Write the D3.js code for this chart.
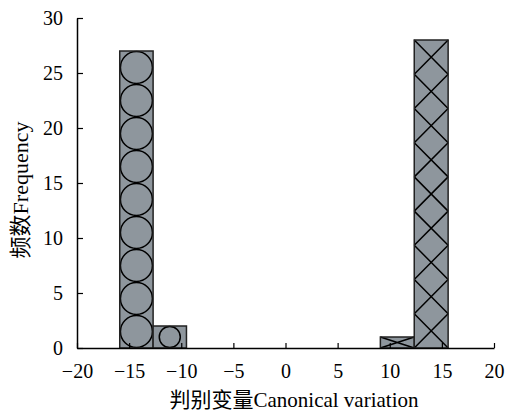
<!DOCTYPE html>
<html>
<head>
<meta charset="utf-8">
<script src="https://cdn.jsdelivr.net/npm/d3@7"></script>
<style>
  body { margin: 0; background: #fff; }
  svg text { font-family: "Liberation Serif", "Times New Roman", "Noto Sans CJK SC", serif; fill: #000; }
</style>
</head>
<body>
<div id="chart"></div>
<script>
// bin edges (two groups, each with its own bins)
var groupAEdges = [-15.9, -12.7, -9.5];
var groupACounts = [27, 2];
var groupBEdges = [9.1, 12.35, 15.6];
var groupBCounts = [1, 28];

var xTicks = [-20, -15, -10, -5, 0, 5, 10, 15, 20];
var yTicks = [0, 5, 10, 15, 20, 25, 30];
var xTitle = "判别变量Canonical variation";
var yTitle = "频数Frequency";

var width = 506, height = 412;
var margin = { left: 77, right: 12, top: 18, bottom: 64 };

var svg = d3.select("#chart").append("svg")
    .attr("width", width)
    .attr("height", height);

var x = d3.scaleLinear().domain([-20, 20]).range([margin.left, width - margin.right]);
var y = d3.scaleLinear().domain([0, 30]).range([height - margin.bottom, margin.top]);

// construir las barras a partir de los bordes y conteos
function makeBins(edges, counts, pattern) {
    var out = [];
    for (var i = 0; i < counts.length; i++) {
        out.push({ x0: edges[i], x1: edges[i + 1], n: counts[i], pattern: pattern });
    }
    return out;
}
var bins = makeBins(groupAEdges, groupACounts, "circle").concat(makeBins(groupBEdges, groupBCounts, "cross"));

var barG = svg.append("g");

bins.forEach(function (b) {
    var bx = x(b.x0), bw = x(b.x1) - x(b.x0);
    var by = y(b.n), bh = y(0) - y(b.n);

    barG.append("rect")
        .attr("x", bx).attr("y", by)
        .attr("width", bw).attr("height", bh)
        .attr("fill", "#8e969d");

    // relleno decorativo: celdas casi cuadradas apiladas
    var cells = Math.max(1, Math.round(bh / bw));
    var ch = bh / cells;
    for (var k = 0; k < cells; k++) {
        var cy = by + k * ch;
        if (b.pattern === "circle") {
            barG.append("circle")
                .attr("cx", bx + bw / 2)
                .attr("cy", cy + ch / 2)
                .attr("r", Math.min(bw, ch) / 2 - 0.5)
                .attr("fill", "none")
                .attr("stroke", "#000")
                .attr("stroke-width", 1.5);
        } else {
            barG.append("path")
                .attr("d", "M" + bx + "," + cy + "L" + (bx + bw) + "," + (cy + ch) +
                           "M" + (bx + bw) + "," + cy + "L" + bx + "," + (cy + ch))
                .attr("fill", "none")
                .attr("stroke", "#000")
                .attr("stroke-width", 1.5);
        }
    }

    barG.append("rect")
        .attr("x", bx).attr("y", by)
        .attr("width", bw).attr("height", bh)
        .attr("fill", "none")
        .attr("stroke", "#222")
        .attr("stroke-width", 1.5);
});

// ejes con marcas hacia dentro
var xAxis = svg.append("g")
    .attr("transform", "translate(0," + y(0) + ")")
    .call(d3.axisBottom(x).tickValues(xTicks).tickSizeInner(-5).tickSizeOuter(0)
        .tickFormat(function (d) { return d < 0 ? "\u2212" + Math.abs(d) : d; }));
xAxis.select(".domain").attr("stroke", "#000").attr("stroke-width", 1.5);
xAxis.selectAll(".tick line").attr("stroke", "#000").attr("stroke-width", 1.2);
xAxis.selectAll(".tick text")
    .attr("y", 12)
    .attr("dy", "0.9em")
    .style("font-size", "20px");

var yAxis = svg.append("g")
    .attr("transform", "translate(" + x(-20) + ",0)")
    .call(d3.axisLeft(y).tickValues(yTicks).tickSizeInner(-6).tickSizeOuter(0));
yAxis.select(".domain").attr("stroke", "#000").attr("stroke-width", 1.5);
yAxis.selectAll(".tick line").attr("stroke", "#000").attr("stroke-width", 1.2);
yAxis.selectAll(".tick text")
    .attr("x", -14)
    .attr("dy", "0.3em")
    .style("font-size", "20px");

// títulos
svg.append("text")
    .attr("x", 294)
    .attr("y", 407)
    .attr("text-anchor", "middle")
    .style("font-size", "21px")
    .text(xTitle);

svg.append("text")
    .attr("transform", "translate(28,190) rotate(-90)")
    .attr("text-anchor", "middle")
    .style("font-size", "22px")
    .text(yTitle);
</script>
</body>
</html>
